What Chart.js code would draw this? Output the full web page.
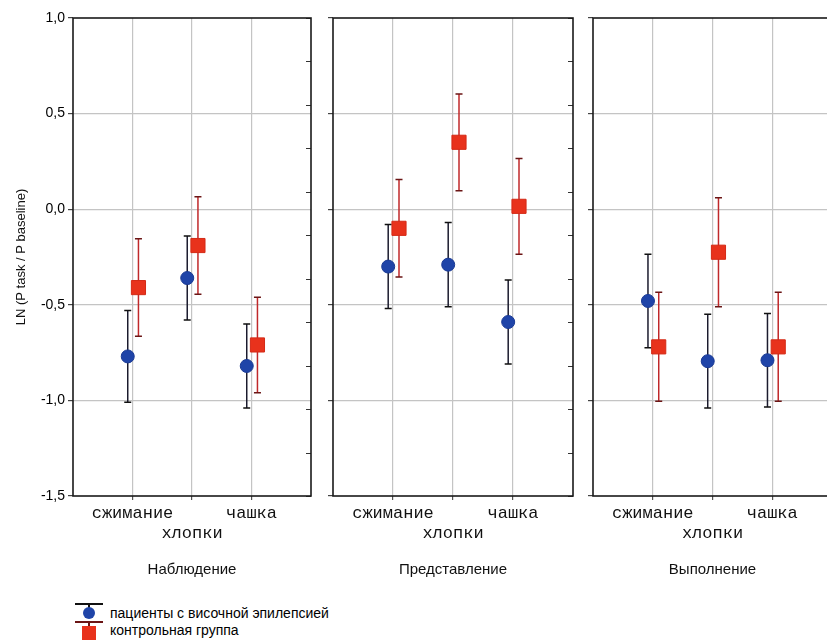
<!DOCTYPE html>
<html>
<head>
<meta charset="utf-8">
<script src="https://cdn.jsdelivr.net/npm/chart.js@4.4.0/dist/chart.umd.min.js"></script>
<style>
  html, body { margin: 0; padding: 0; background: #fff; width: 827px; height: 641px; overflow: hidden; }
  canvas.panel { position: absolute; top: 0; }
  .lg { position: absolute; }
  .lgText { position: absolute; left: 110px; height: 17px; line-height: 17px; white-space: nowrap;
            font: 14px "Liberation Sans", Arial, sans-serif; color: #000; }
</style>
</head>
<body>
<canvas id="p0" class="panel" width="314" height="600" style="left:0px"></canvas>
<canvas id="p1" class="panel" width="253" height="600" style="left:323px"></canvas>
<canvas id="p2" class="panel" width="252" height="600" style="left:583px"></canvas>

<!-- legend -->
<div class="lg" style="left:75px;top:603px;width:28px;height:2px;background:#111"></div>
<div class="lg" style="left:88px;top:604px;width:2px;height:5px;background:#111"></div>
<div class="lg" style="left:83px;top:607px;width:12px;height:12px;border-radius:50%;background:#1f44a8"></div>
<div class="lgText" style="top:605px">пациенты с височной эпилепсией</div>
<div class="lg" style="left:75px;top:621px;width:28px;height:2px;background:#6b1515"></div>
<div class="lg" style="left:88px;top:622px;width:2px;height:5px;background:#6b1515"></div>
<div class="lg" style="left:82px;top:626px;width:14px;height:14px;background:#e8321c"></div>
<div class="lgText" style="top:622px">контрольная группа</div>

<script>
// categories and panels
const tasks = ['сжимание', 'хлопки', 'чашка'];
const conditions = ['Наблюдение', 'Представление', 'Выполнение'];

// means and half-widths of the error bars, one row per condition
const patientMean = [[-0.77, -0.36, -0.82], [-0.30, -0.29, -0.59], [-0.48, -0.795, -0.79]];
const patientErr  = [[0.24, 0.22, 0.22], [0.22, 0.22, 0.22], [0.245, 0.245, 0.245]];
const controlMean = [[-0.41, -0.19, -0.71], [-0.10, 0.35, 0.015], [-0.72, -0.225, -0.72]];
const controlErr  = [[0.255, 0.255, 0.25], [0.255, 0.253, 0.25], [0.285, 0.285, 0.285]];

const sans = '"Liberation Sans", Arial, sans-serif';
const mono = '"Liberation Mono", "Courier New", monospace';

// vertical error bars with caps, drawn under the markers
const errorBars = {
  id: 'errorBars',
  beforeDatasetsDraw(chart) {
    const ctx = chart.ctx, ys = chart.scales.y;
    chart.data.datasets.forEach((ds, di) => {
      const meta = chart.getDatasetMeta(di);
      meta.data.forEach((pt, i) => {
        const d = ds.data[i];
        const top = ys.getPixelForValue(d.y + d.err);
        const bot = ys.getPixelForValue(d.y - d.err);
        const x = pt.x;
        ctx.save();
        ctx.lineWidth = 1.5;
        ctx.strokeStyle = ds.barColor;
        ctx.beginPath();
        ctx.moveTo(x, top); ctx.lineTo(x, bot);
        ctx.stroke();
        ctx.strokeStyle = ds.capColor;
        ctx.beginPath();
        ctx.moveTo(x - 3.5, top); ctx.lineTo(x + 3.5, top);
        ctx.moveTo(x - 3.5, bot); ctx.lineTo(x + 3.5, bot);
        ctx.stroke();
        ctx.restore();
      });
    });
  }
};

// box around the plot area and the short inner ticks on the right side
const frame = {
  id: 'frame',
  afterDraw(chart) {
    const ctx = chart.ctx, a = chart.chartArea, r = chart.scales.y2;
    ctx.save();
    ctx.strokeStyle = '#333';
    ctx.lineWidth = 1;
    r.ticks.forEach(t => {
      const y = Math.round(r.getPixelForValue(t.value)) + 0.5;
      ctx.beginPath();
      ctx.moveTo(a.right - 5, y); ctx.lineTo(a.right, y);
      ctx.stroke();
    });
    ctx.strokeStyle = '#1a1a1a';
    ctx.lineWidth = 1.6;
    ctx.strokeRect(a.left, a.top, a.right - a.left, a.bottom - a.top);
    ctx.restore();
  }
};

function makePanel(k) {
  const first = k === 0;
  const patients = tasks.map((t, i) => ({ x: i + 1 - 0.08, y: patientMean[k][i], err: patientErr[k][i] }));
  const controls = tasks.map((t, i) => ({ x: i + 1 + 0.1, y: controlMean[k][i], err: controlErr[k][i] }));

  new Chart(document.getElementById('p' + k), {
    type: 'scatter',
    data: {
      datasets: [{
        label: 'пациенты с височной эпилепсией',
        data: patients,
        order: 1,
        pointStyle: 'circle',
        pointRadius: 6.5,
        backgroundColor: '#1f44a8',
        borderColor: '#1a3a94',
        borderWidth: 1,
        barColor: '#1b1b2e',
        capColor: '#111'
      }, {
        label: 'контрольная группа',
        data: controls,
        order: 0,
        pointStyle: 'rect',
        pointRadius: 10,
        backgroundColor: '#e8321c',
        borderColor: '#d42a16',
        borderWidth: 1,
        barColor: '#c0282a',
        capColor: '#6b1515'
      }]
    },
    options: {
      responsive: false,
      animation: false,
      layout: { autoPadding: false, padding: { top: 18, right: 1, bottom: 0, left: 0 } },
      plugins: { legend: { display: false }, tooltip: { enabled: false } },
      scales: {
        x: {
          type: 'linear',
          min: 0, max: 4,
          afterFit: s => { s.height = 104; },
          border: { display: false },
          grid: {
            color: c => (c.tick.value === 0 || c.tick.value === 4) ? 'rgba(0,0,0,0)' : '#c4c4c4',
            tickColor: c => (c.tick.value === 0 || c.tick.value === 4) ? 'rgba(0,0,0,0)' : '#555',
            lineWidth: 1.2,
            tickLength: 4
          },
          ticks: {
            stepSize: 1,
            autoSkip: false,
            maxRotation: 0,
            padding: 3,
            color: '#111',
            font: { family: mono, size: 17 },
            callback: v => {
              const i = v - 1;
              if (i < 0 || i >= tasks.length) return '';
              return i % 2 === 1 ? ['', tasks[i]] : tasks[i];
            }
          },
          title: {
            display: true,
            text: conditions[k],
            color: '#111',
            font: { family: sans, size: 15 },
            padding: { top: 0, bottom: 21 }
          }
        },
        y: {
          min: -1.5, max: 1.0,
          afterFit: s => { s.width = first ? 73 : 10; },
          border: { display: false },
          grid: {
            color: c => (c.tick.value === -1.5 || c.tick.value === 1) ? 'rgba(0,0,0,0)' : '#c4c4c4',
            tickColor: '#444',
            lineWidth: 1.2,
            tickLength: 5
          },
          ticks: {
            display: first,
            stepSize: 0.5,
            padding: 3,
            color: '#000',
            font: { family: sans, size: 14 },
            callback: v => v.toFixed(1).replace('.', ',')
          },
          title: {
            display: first,
            text: 'LN (P task / P baseline)',
            color: '#111',
            font: { family: sans, size: 13 },
            padding: { top: 14, bottom: 0 }
          }
        },
        y2: {
          type: 'linear',
          position: 'right',
          display: false,
          min: 0, max: 11,
          ticks: { stepSize: 1 }
        }
      }
    },
    plugins: [errorBars, frame]
  });
}

conditions.forEach((c, k) => makePanel(k));
</script>
</body>
</html>
